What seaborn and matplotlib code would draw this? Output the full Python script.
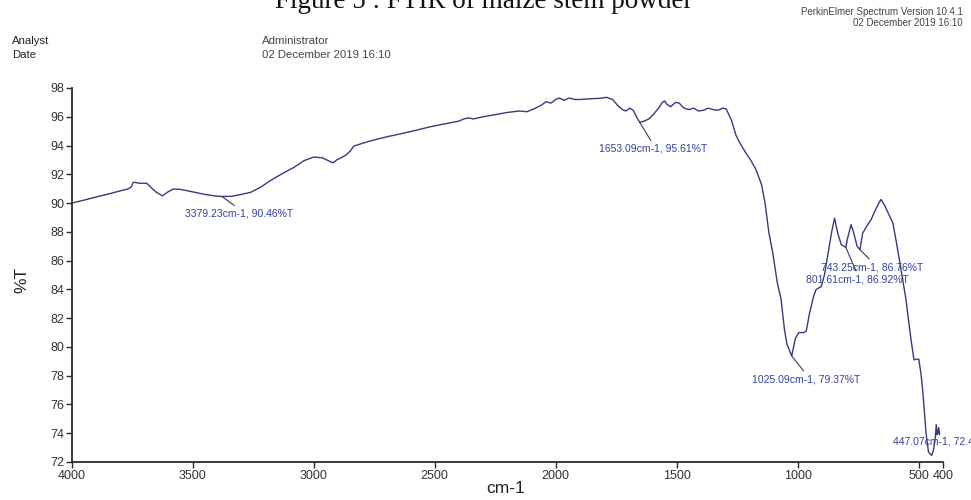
import matplotlib
matplotlib.use("Agg")
import matplotlib.pyplot as plt
import pandas as pd
import seaborn as sns

# FTIR spectrum of maize stem powder: wavenumber (cm-1) and transmittance (%T)
wavenumber = [
    4000, 3950, 3900, 3850, 3800, 3770, 3755, 3745, 3720, 3690, 3670, 3650,
    3625, 3605, 3580, 3550, 3500, 3450, 3400, 3379.23, 3340, 3300, 3260, 3220,
    3180, 3130, 3080, 3040, 3000, 2965, 2940, 2920, 2905, 2870, 2850, 2835,
    2800, 2760, 2700, 2640, 2580, 2520, 2460, 2400, 2380, 2360, 2340, 2300,
    2250, 2200, 2150, 2120, 2090, 2060, 2040, 2020, 2000, 1985, 1965, 1945,
    1920, 1900, 1860, 1820, 1790, 1765, 1745, 1725, 1710, 1695, 1680, 1665,
    1653.09, 1635, 1615, 1595, 1575, 1560, 1550, 1540, 1525, 1505, 1490, 1470,
    1450, 1430, 1410, 1390, 1370, 1350, 1330, 1310, 1296, 1275, 1255, 1240,
    1215, 1195, 1172, 1150, 1135, 1120, 1103, 1085, 1069, 1055, 1045, 1025.09,
    1010, 995, 975, 965, 952, 935, 924, 903, 890, 875, 860, 848,
    835, 820, 801.61, 795, 780, 770, 755, 743.25, 732, 715, 697, 680,
    665, 656, 640, 621, 607, 595, 580, 565, 553, 542, 532, 520,
    510, 500, 490, 484, 470, 460, 447.07, 440, 432, 428, 424, 421,
    418, 414,
]
transmittance = [
    90.00, 90.20, 90.42, 90.62, 90.85, 90.97, 91.10, 91.45, 91.38, 91.38, 91.05, 90.75,
    90.50, 90.75, 90.98, 90.95, 90.78, 90.60, 90.48, 90.46, 90.47, 90.60, 90.75, 91.10,
    91.55, 92.05, 92.50, 92.95, 93.20, 93.15, 92.95, 92.80, 93.00, 93.30, 93.60, 93.95,
    94.15, 94.35, 94.60, 94.82, 95.05, 95.30, 95.50, 95.70, 95.85, 95.92, 95.85, 96.00,
    96.15, 96.30, 96.40, 96.35, 96.55, 96.80, 97.05, 96.95, 97.20, 97.30, 97.15, 97.30,
    97.20, 97.20, 97.25, 97.28, 97.35, 97.20, 96.80, 96.50, 96.40, 96.60, 96.45, 95.95,
    95.61, 95.70, 95.85, 96.20, 96.60, 97.00, 97.10, 96.85, 96.70, 97.00, 96.95, 96.60,
    96.50, 96.60, 96.40, 96.45, 96.60, 96.50, 96.45, 96.60, 96.55, 95.80, 94.70, 94.20,
    93.50, 93.00, 92.30, 91.30, 90.00, 88.00, 86.50, 84.50, 83.30, 81.20, 80.20, 79.37,
    80.60, 81.00, 81.00, 81.10, 82.30, 83.50, 84.00, 84.20, 85.00, 86.50, 88.00, 88.95,
    87.90, 87.10, 86.92, 87.50, 88.50, 88.00, 87.00, 86.76, 87.90, 88.40, 88.85, 89.50,
    90.00, 90.25, 89.80, 89.10, 88.60, 87.50, 86.05, 84.50, 83.30, 81.80, 80.50, 79.10,
    79.15, 79.15, 78.00, 77.00, 74.00, 72.70, 72.45, 72.80, 73.60, 74.60, 73.90, 74.00,
    74.40, 73.90,
]

# Annotated band positions
peak_wavenumber = [3379.23, 1653.09, 1025.09, 801.61, 743.25, 447.07]
peak_transmittance = [90.46, 95.61, 79.37, 86.92, 86.76, 72.45]

x_ticks = [4000, 3500, 3000, 2500, 2000, 1500, 1000, 500, 400]
y_ticks = list(range(72, 99, 2))

sns.set_style("ticks")
plt.rcParams["font.family"] = ["Liberation Sans", "DejaVu Sans"]

line_color = "#353b7c"
label_color = "#33409a"
leader_color = "#3a3a5a"
axis_color = "#2b2b2b"

spectrum = pd.DataFrame({"wavenumber": wavenumber, "transmittance": transmittance})

fig = plt.figure(figsize=(9.71, 5.0), dpi=100)
ax_w_px = 943 - 71.7
ax_h_px = 462 - 88
ax = fig.add_axes([71.7 / 971, 38 / 500, ax_w_px / 971, ax_h_px / 500])

sns.lineplot(data=spectrum, x="wavenumber", y="transmittance", ax=ax,
             color=line_color, linewidth=1.0, estimator=None, sort=False)

ax.set_xlim(4000, 400)
ax.set_ylim(72, 98)
ax.set_xticks(x_ticks)
ax.set_xticklabels([str(t) for t in x_ticks])
ax.set_yticks(y_ticks)
ax.set_yticklabels([str(t) for t in y_ticks])
ax.tick_params(direction="out", length=4, width=1.0, color=axis_color,
               labelcolor="#333333", labelsize=9, pad=1.5)
sns.despine(ax=ax)
for side in ("left", "bottom"):
    ax.spines[side].set_color(axis_color)
    ax.spines[side].set_linewidth(1.3)

ax.set_xlabel("cm-1", fontsize=12.5, color="#222222")
ax.set_ylabel("%T", fontsize=12.5, color="#222222")
ax.xaxis.set_label_coords((506 - 71.7) / ax_w_px, -(481 - 462) / ax_h_px)
ax.yaxis.set_label_coords(-(71.7 - 29) / ax_w_px, (462 - 280) / ax_h_px)

# Text offsets (points) of each band label from its band position
label_offsets = [(12.2, -12.5), (9.4, -19.0), (10.4, -16.6), (8.4, -22.9), (9.0, -12.6), (-28.0, 9.9)]
for wn, t, (dx, dy) in zip(peak_wavenumber, peak_transmittance, label_offsets):
    text = f"{wn:.2f}cm-1, {t:.2f}%T"
    if dx < 0:
        ax.annotate(text, xy=(wn, t), xytext=(dx, dy), textcoords="offset points",
                    ha="left", va="center", fontsize=7.5, color=label_color,
                    annotation_clip=False)
    else:
        ax.annotate(text, xy=(wn, t), xytext=(dx, dy), textcoords="offset points",
                    ha="center", va="center", fontsize=7.5, color=label_color,
                    arrowprops=dict(arrowstyle="-", color=leader_color, lw=0.8,
                                    shrinkA=0, shrinkB=0, relpos=(0.5, 1.0)))

# Report header
fig.text(484 / 971, 1 - 8 / 500, "Figure 5 : FTIR of maize stem powder",
         ha="center", va="baseline", fontsize=19.5, family="Liberation Serif", color="#111111")
fig.text(963 / 971, 1 - 12 / 500, "PerkinElmer Spectrum Version 10.4.1",
         ha="right", va="center", fontsize=7, color="#444444")
fig.text(963 / 971, 1 - 23 / 500, "02 December 2019 16:10",
         ha="right", va="center", fontsize=7, color="#444444")
fig.text(12 / 971, 1 - 41.5 / 500, "Analyst", ha="left", va="center", fontsize=8.2, color="#222222")
fig.text(12 / 971, 1 - 55.5 / 500, "Date", ha="left", va="center", fontsize=8.2, color="#222222")
fig.text(262 / 971, 1 - 41.5 / 500, "Administrator", ha="left", va="center", fontsize=8.2, color="#444444")
fig.text(262 / 971, 1 - 55.5 / 500, "02 December 2019 16:10", ha="left", va="center", fontsize=8.2, color="#444444")

fig.savefig("out.png", dpi=100)
